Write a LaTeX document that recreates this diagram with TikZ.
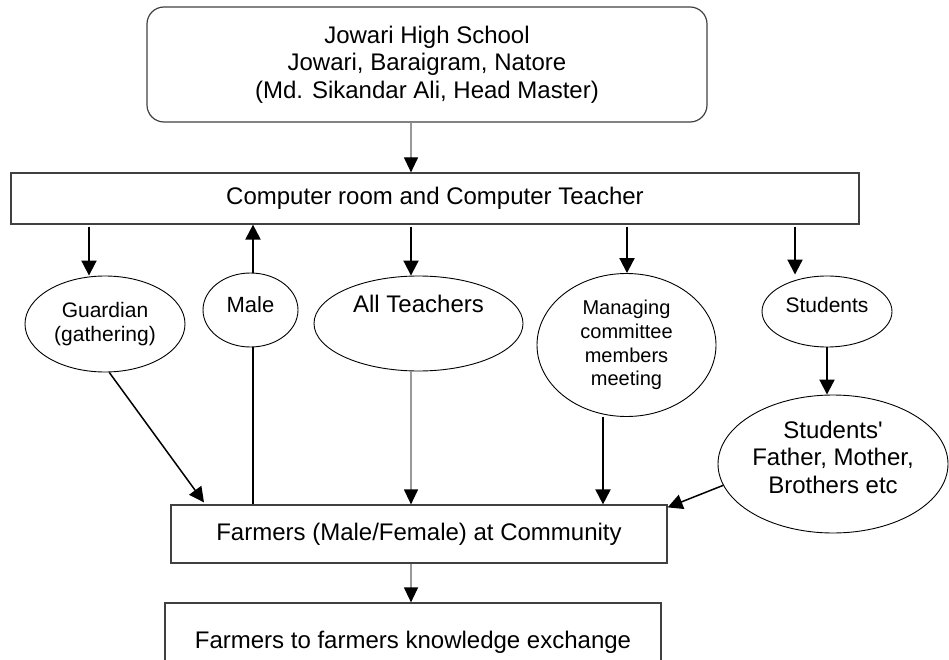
\documentclass[tikz,border=0pt]{standalone}
\usepackage{fontspec}
\setmainfont{Liberation Sans}
\usetikzlibrary{arrows.meta,shapes.geometric}
\tikzset{
  box/.style={draw=black!75, line width=1.2pt, rectangle, inner sep=0pt, align=center, font=\fontsize{24}{27.5}\selectfont},
  ell/.style={draw=black, line width=0.9pt, ellipse, inner sep=0pt, align=center},
  big/.style={font=\fontsize{24}{27.5}\selectfont},
  small/.style={font=\fontsize{21}{24}\selectfont},
  thick arrow/.style={line width=2pt, -{Triangle[width=15pt,length=15pt]}},
  thin arrow/.style={draw=black!40, line width=1.2pt, -{Triangle[width=14pt,length=15pt,color=black]}},
  thick line/.style={line width=2pt}
}
\begin{document}
\begin{tikzpicture}[x=1pt,y=-1pt]
\useasboundingbox (0,0) rectangle (949,660);
\clip (0,0) rectangle (949,660);

% column coordinates
\coordinate (x89) at (89,0);
\coordinate (x204) at (204,0);
\coordinate (x253) at (253,0);
\coordinate (x411) at (411,0);
\coordinate (x603) at (603,0);
\coordinate (x627) at (627,0);
\coordinate (x795) at (795,0);
\coordinate (x827) at (827,0);

% boxes
\node[box, rounded corners=17pt, minimum width=560pt, minimum height=115pt] (top) at (427,64.5)
  {Jowari High School\\Jowari, Baraigram, Natore\\(Md. Sikandar Ali, Head Master)};
\node[box, minimum width=848pt, minimum height=51pt] (comp) at (435,198.5)
  {Computer room and Computer Teacher};
\node[box, minimum width=496pt, minimum height=58pt] (farm) at (419,534)
  {Farmers (Male/Female) at Community};
\node[box, minimum width=496pt, minimum height=78pt] (bot) at (413,642)
  {Farmers to farmers knowledge exchange};

% ellipses
\node[ell, small, minimum width=160pt, minimum height=96pt] (guard) at (105,324)
  {Guardian\\(gathering)};
\node[ell, minimum width=95pt, minimum height=74pt, font=\fontsize{22}{25}\selectfont] (male) at (250.5,310)
  {Male\\[-14pt]\mbox{}};
\node[ell, minimum width=209pt, minimum height=95pt] (teach) at (418.5,323.5) {};
\node[big] (teachtxt) at (418.5,304) {All Teachers};
\node[ell, font=\fontsize{20}{23.7}\selectfont, minimum width=179pt, minimum height=143pt] (manag) at (626.5,345)
  {Managing\\committee\\members\\meeting};
\node[ell, small, minimum width=130pt, minimum height=71pt] (stud) at (827,311.5)
  {Students\\[-10pt]\mbox{}};
\node[ell, big, minimum width=230pt, minimum height=138pt] (fam) at (833,464)
  {Students\textquotesingle\\Father, Mother,\\Brothers etc\\[-14pt]\mbox{}};

% connectors
\draw[thin arrow] (top.south -| x411) -- (comp.north -| x411);
\draw[thick arrow] ([yshift=-2pt]comp.south -| x89) -- (guard.north -| x89);
\draw[thick arrow] (male.north -| x253) -- (comp.south -| x253);
\draw[thick arrow] ([yshift=-2pt]comp.south -| x411) -- (teach.north -| x411);
\draw[thick arrow] ([yshift=-2pt]comp.south -| x627) -- (manag.north -| x627);
\draw[thick arrow] ([yshift=-2pt]comp.south -| x795) -- ([yshift=1pt]stud.north -| x795);
\draw[thick arrow] (stud.south -| x827) -- (fam.north -| x827);

\draw[line width=1.5pt, -{Triangle[width=15pt,length=15pt]}] (guard.275) -- ([yshift=2pt]farm.north -| x204);
\draw[thick line] (male.south -| x253) -- (farm.north -| x253);
\draw[thin arrow] (teach.south -| x411) -- (farm.north -| x411);
\draw[thick arrow] (manag.south -| x603) -- (farm.north -| x603);
\draw[line width=1.5pt, -{Triangle[width=15pt,length=15pt]}] (fam.191) -- ([yshift=-3pt]farm.north east);
\draw[thin arrow] (farm.south -| x411) -- (bot.north -| x411);
\end{tikzpicture}
\end{document}
